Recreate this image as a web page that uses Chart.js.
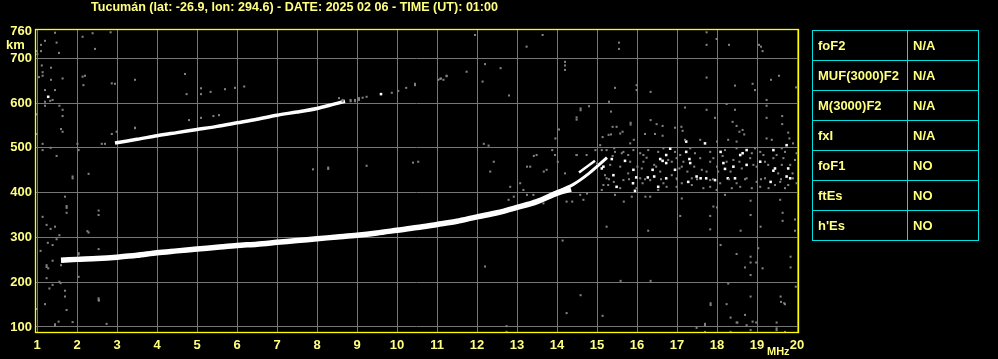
<!DOCTYPE html>
<html><head><meta charset="utf-8">
<script src="https://cdn.jsdelivr.net/npm/chart.js@4/dist/chart.umd.min.js"></script>
<style>
html,body{margin:0;padding:0;background:#000;}
#wrap{position:relative;width:998px;height:359px;background:#000;}
#c{position:absolute;left:0;top:0;}
#tbl{position:absolute;left:812px;top:30px;border-collapse:collapse;table-layout:fixed;font:bold 13px "Liberation Sans",Arial,sans-serif;color:#ffff80;}
#tbl td{border:1px solid #00e0e0;height:30px;padding:0 0 0 5px;box-sizing:border-box;white-space:nowrap;}
</style></head>
<body>
<div id="wrap">
<canvas id="c" width="998" height="359"></canvas>
<table id="tbl"><colgroup><col style="width:95px"><col style="width:71px"></colgroup><tbody id="tb"></tbody></table>
</div>
<script>
const titleText = "Tucumán (lat: -26.9, lon: 294.6) - DATE: 2025 02 06 - TIME (UT): 01:00";
const freqTicks = [1,2,3,4,5,6,7,8,9,10,11,12,13,14,15,16,17,18,19,20];
const heightTicks = [100,200,300,400,500,600,700,760];
const paramNames = ["foF2","MUF(3000)F2","M(3000)F2","fxI","foF1","ftEs","h'Es"];
const paramValues = ["N/A","N/A","N/A","N/A","NO","NO","NO"];

// main F trace (first hop)
const fTraceFreq   = [1.6,2.0,2.5,3.0,3.5,4.0,4.5,5.0,5.5,6.0,6.5,7.0,7.5,8.0,8.5,9.0,9.5,10.0,10.5,11.0,11.5,12.0,12.5,13.0,13.5,14.0,14.35];
const fTraceHeight = [249,251,253,256,260,266,270,274,278,282,285,289,293,297,301,305,310,316,322,329,336,346,355,367,380,399,408];
// split branches near the top of the trace
const branchAFreq   = [13.9,14.4,14.8,15.25];
const branchAHeight = [398,418,443,478];
const branchBFreq   = [14.55,14.95];
const branchBHeight = [445,471];
// second hop trace
const hop2Freq   = [2.95,3.5,4.0,4.5,5.0,5.5,6.0,6.5,7.0,7.5,8.0,8.4,8.7];
const hop2Height = [511,519,527,534,541,548,556,564,573,580,588,597,604];

// weak (grey) echoes [MHz, km]
const weakEchoes = [
[1.45,757],[1.10,730],[1.2,739],[1.49,735],[1.0,716],[1.01,709],[1.10,716],[1.55,712],[2.14,748],[2.39,756],[2.45,721],[2.84,758],
[1.12,684],[1.35,679],[1.14,669],[1.14,661],[1.05,658],[1.35,652],[1.64,655],[1.2,629],[1.45,629],[1.33,605],[1.39,607],[1.2,603],[1.2,594],[1.56,594],[1.64,585],[1.64,571],[1.0,575],[1.6,542],[1.64,536],[1.0,531],[1.14,509],[1.14,495],[1.34,500],[1.49,482],[2.01,509],[2.04,495],[1.89,436],[1.89,432],[2.29,442],[1.7,391],[1.74,370],[1.74,366],[1.74,355],[1.14,346],[1.24,328],[1.34,319],[1.45,324],[1.56,305],[1.49,296],[1.27,288],[1.39,283],[1.09,270],[2.54,360],[2.54,350],[2.26,314],[2.29,311],[2.54,274],[2.04,265],[2.04,262],[1.24,238],[1.24,234],[1.28,231],[1.39,248],[1.6,238],[1.24,209],[1.39,194],[1.56,201],[1.59,198],[1.31,186],[2.04,212],[1.7,181],[1.7,168],[1.2,151],[1.74,138],[2.54,164],[2.54,160],[1.0,140],[2.16,640],[2.14,659],[2.2,661],[1.54,112],[1.45,106],[1.45,103],[1.89,111],[2.74,107],[2.55,159],
[3.45,652],[4.7,665],[4.74,620],[5.1,633],[5.1,620],[5.34,625],[5.7,631],[5.95,634],[6.18,637],[3.45,545],[4.8,562],[5.1,567],[5.41,571],[5.55,573],[2.87,644],[2.95,643],[2.99,536],[2.87,531],[2.62,509],[2.7,509],[3.45,544],
[8.55,611],[8.64,607],[8.64,604],[8.84,607],[8.84,604],[8.95,607],[8.95,604],[9.05,611],[9.05,607],[9.14,612],[9.24,614],[9.87,623],[10.03,627],[10.23,634],[10.45,640],[10.45,643],[11.08,654],[11.24,661],
[7.9,452],[8.28,456],[8.28,453],[9.24,460],[10.4,467],[10.53,469],
[11.95,752],[13.64,752],[13.24,726],[15.55,735],[15.55,721],[17.74,758],[17.74,730],[17.99,743],[18.3,730],[19.05,730],[19.1,726],[19.14,716],[14.2,692],[14.2,684],[14.2,674],[12.2,687],[12.59,678],[11.74,670],[11.24,660],[11.1,655],[11.03,652],[11.16,652],[12.14,648],[12.8,617],[15.45,634],[15.99,640],[15.99,629],[16.34,625],[17.74,657],[18.45,639],[18.89,643],[18.95,629],[19.35,652],[19.55,661],[19.98,635],[19.24,607],[19.24,594],[19.24,567],[19.63,571],[19.63,553],[19.78,534],[17.74,585],[17.95,567],[18.24,598],[18.45,585],[18.39,558],[18.49,549],[18.64,540],[18.56,536],[18.68,530],[17.2,590],[17.11,547],[17.14,538],[16.95,545],[16.64,549],[16.49,553],[16.34,562],[16.64,527],[16.45,531],[16.2,531],[15.84,556],[15.84,552],[15.64,536],[15.49,547],[15.39,547],[15.35,581],[15.3,603],[15.35,530],[14.59,588],[14.59,584],[14.49,568],[14.49,563],[14.8,593],[14.05,541],[15.14,524],
[15.24,324],[16.28,315],[17.08,348],[17.83,318],[17.83,348],[17.91,369],[18.0,367],[18.59,315],[18.84,350],[18.84,382],[19.09,324],[19.64,355],[19.64,337],[19.95,340],[19.95,315],[12.2,235],[14.14,293],[18.09,283],[19.03,276],[18.49,263],[18.84,257],[18.84,244],[18.7,233],[18.98,244],[19.14,231],[19.84,257],[19.84,233],[18.84,216],[18.28,197],[15.59,203],[16.34,203],[14.59,171],[14.24,131],[15.14,125],[17.84,149],[17.84,153],[18.24,151],[18.7,127],[18.84,168],[18.98,110],[18.51,110],[19.59,168],[19.68,153],[19.49,110],[17.7,104],[17.7,107],[12.74,102],[12.74,89],[19.97,190],[18.34,121],[18.49,110],[18.74,104],[18.89,112],[18.84,93],[18.34,89],[19.49,93],[19.49,97],[19.6,156],[19.7,151],[19.7,89],[17.49,98],[17.7,89],
[15.83,510],[17.2,518],[17.58,518],[18.0,514],[18.28,518],[18.49,514],[19.24,521],[19.37,518],[19.81,521],[19.9,510],[15.24,495],[15.45,491],[15.62,488],[16.08,488],[16.28,495],[16.53,491],[16.95,491],[17.08,484],[17.45,488],[17.83,491],[18.2,495],[18.87,488],[19.08,491],[19.49,484],[19.7,491],[19.99,488],
[15.33,462],[15.58,458],[15.83,469],[16.16,469],[16.43,462],[16.87,469],[17.12,458],[17.43,458],[17.83,469],[18.0,458],[18.41,473],[18.91,462],[19.2,469],[19.62,462],[19.95,473],
[15.24,432],[15.66,428],[16.08,432],[16.33,428],[16.66,421],[16.99,432],[17.12,421],[17.37,432],[17.83,428],[18.08,421],[18.49,421],[18.74,432],[18.99,424],[19.2,432],[19.58,424],[19.9,432],
[15.16,417],[15.45,395],[15.87,391],[16.33,391],[16.53,406],[17.12,387],[17.66,410],[18.2,395],[18.37,410],[18.87,410],[19.29,410],[19.58,384],[19.78,417],[19.99,421],
[12.17,509],[12.29,505],[12.42,469],[12.33,447],[12.83,413],[13.08,421],[13.25,458],[13.42,482],[13.67,447],[14.02,469],[14.49,484],[13.96,521],[13.88,495],[12.92,391],[12.79,384],[13.25,395],[14.38,380],[14.58,395],[14.75,398],[14.96,495],[15.08,506],[15.0,465],[15.29,529],[15.58,532],[15.92,518],[15.42,424],[15.67,380],[16.21,391],[14.74,484],
[15.12,495],[15.39,482],[15.43,499],[15.66,491],[15.78,484],[15.91,495],[16.01,458],[16.16,484],[16.12,454],[16.24,478],[16.48,458],[16.58,447],[16.78,473],[16.87,439],[16.99,477],[17.06,454],[17.16,469],[17.26,447],[17.58,477],[17.62,451],[17.74,447],[17.91,477],[18.03,447],[18.14,482],[18.24,469],[18.34,447],[18.56,469],[18.62,454],[18.83,477],[18.99,458],[19.16,484],[19.28,462],[19.41,477],[19.53,443],[19.66,477],[19.83,462],[19.89,443],
[15.28,417],[15.58,410],[15.99,410],[16.14,421],[16.74,413],[16.99,413],[17.37,417],[17.83,413],[17.99,406],[18.58,413],[19.08,413],[19.45,417],[19.7,410],[15.2,439],[15.78,443],[16.66,499],[17.33,499],[18.49,499],[18.95,499],[19.62,499],
[15.3,430],[15.8,430],[16.2,430],[16.6,430],[17.0,430],[17.5,430],[17.9,430],[18.3,430],[18.7,430],[19.1,430],[19.6,430],
[13.33,458],[13.49,484],[13.95,484],[14.49,484],[13.74,451],[14.2,443],[13.16,406],[13.41,395],[13.66,376],[14.24,380],[14.66,384],[15.12,406]
];
// strong (white) echoes [MHz, km]
const strongEchoes = [
[1.28,614],[9.6,620],[15.16,458],[15.12,454],[15.37,475],[15.7,471],[15.41,439],[15.49,413],[15.9,421],[15.98,434],[15.95,404],[16.27,434],[16.39,451],[16.43,436],[16.58,475],[16.64,471],[16.73,484],[16.73,466],[16.95,451],[16.73,432],[16.53,413],[17.23,514],[17.23,491],[17.31,475],[17.33,466],[17.7,510],[17.49,436],[17.28,424],[17.59,432],[17.73,432],[18.09,491],[18.16,466],[18.2,453],[18.41,458],[18.58,484],[18.64,488],[18.74,495],[18.27,432],[18.45,432],[17.95,428],[19.08,469],[19.41,495],[19.45,454],[19.41,449],[19.34,424],[19.74,506],[19.78,454],[19.74,436],[19.83,432],[18.74,462],[16.83,498],[15.91,451]
];

const pairs = (fs, hs) => fs.map((f, i) => ({x: f, y: hs[i]}));
const toPts = arr => arr.map(p => ({x: p[0], y: p[1]}));

const tb = document.getElementById('tb');
paramNames.forEach((n, i) => {
  const tr = document.createElement('tr');
  const a = document.createElement('td'); a.textContent = n;
  const b = document.createElement('td'); b.textContent = paramValues[i];
  tr.appendChild(a); tr.appendChild(b); tb.appendChild(tr);
});

const YEL = '#ffff80';
const FONT = '"Liberation Sans", Arial, sans-serif';
const GRID = '#777777';

const framePlugin = {
  id: 'frame',
  afterDraw(chart) {
    const c = chart.ctx;
    const a = chart.chartArea;
    c.save();
    c.strokeStyle = '#ffff00';
    c.lineWidth = 1.3;
    c.strokeRect(Math.round(a.left) + 0.5, Math.round(a.top) + 0.5, Math.round(a.right - a.left), Math.round(a.bottom - a.top) - 1);
    c.fillStyle = YEL;
    c.textBaseline = 'middle';
    c.textAlign = 'left';
    c.font = 'bold 13px ' + FONT;
    c.fillText(titleText, 91, 7, 407);
    c.font = 'bold 13px ' + FONT;
    c.fillText('km', 6, 45);
    c.font = 'bold 11px ' + FONT;
    c.fillText('MHz', 767, 352);
    c.restore();
  }
};

new Chart(document.getElementById('c'), {
  type: 'scatter',
  data: {
    datasets: [
      {data: toPts(weakEchoes), pointStyle: 'rect', pointRadius: 1.45, backgroundColor: '#808080', borderWidth: 0},
      {data: pairs(fTraceFreq, fTraceHeight), showLine: true, borderColor: '#ffffff', borderWidth: 5.5, pointRadius: 0, tension: 0.3},
      {data: pairs(branchAFreq, branchAHeight), showLine: true, borderColor: '#ffffff', borderWidth: 3, pointRadius: 0, tension: 0.3},
      {data: pairs(branchBFreq, branchBHeight), showLine: true, borderColor: '#ffffff', borderWidth: 2.5, pointRadius: 0, tension: 0},
      {data: pairs(hop2Freq, hop2Height), showLine: true, borderColor: '#ffffff', borderWidth: 3.5, pointRadius: 0, tension: 0.3},
      {data: toPts(strongEchoes), pointStyle: 'rect', pointRadius: 1.8, backgroundColor: '#ffffff', borderWidth: 0}
    ]
  },
  options: {
    responsive: false,
    animation: false,
    events: [],
    layout: {padding: {top: 29, right: 200, left: 0, bottom: 0}},
    plugins: {legend: {display: false}, tooltip: {enabled: false}, title: {display: false}},
    scales: {
      x: {
        type: 'linear', min: 0.95, max: 20.025,
        afterBuildTicks: s => { s.ticks = freqTicks.map(v => ({value: v})); },
        afterFit: s => { s.height = 26; },
        grid: {color: GRID, lineWidth: 1, drawTicks: false},
        border: {display: false},
        ticks: {color: YEL, font: {family: FONT, size: 13, weight: 'bold'}, padding: 5, maxRotation: 0, autoSkip: false}
      },
      y: {
        type: 'linear', min: 86.6, max: 765.4,
        afterBuildTicks: s => { s.ticks = heightTicks.map(v => ({value: v})); },
        afterFit: s => { s.width = 35; },
        grid: {color: c => (c.tick && c.tick.value === 760) ? 'rgba(0,0,0,0)' : GRID, lineWidth: 1, drawTicks: false},
        border: {display: false},
        ticks: {color: YEL, font: {family: FONT, size: 13, weight: 'bold'}, padding: 3, autoSkip: false}
      }
    }
  },
  plugins: [framePlugin]
});
</script>
</body></html>
